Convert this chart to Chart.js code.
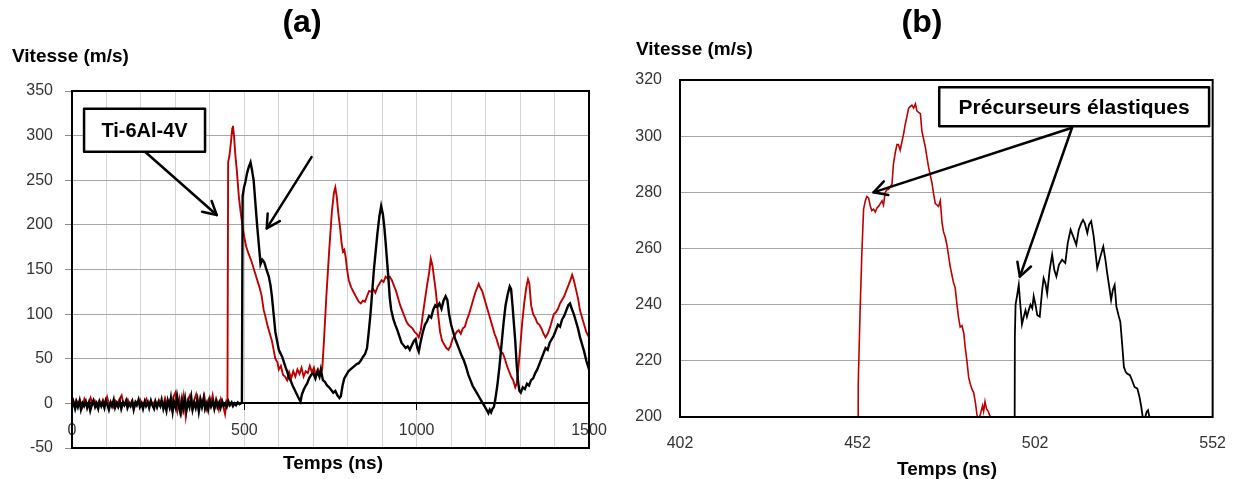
<!DOCTYPE html>
<html lang="fr">
<head>
<meta charset="utf-8">
<title>Vitesse de surface libre - Ti-6Al-4V</title>
<script src="https://cdn.jsdelivr.net/npm/chart.js@4.4.1/dist/chart.umd.min.js"></script>
<style>
  html, body { margin: 0; padding: 0; background: #fff; }
  #page { position: relative; width: 1235px; height: 479px; overflow: hidden; }
  #grapheA { position: absolute; left: 0; top: 0; }
  #grapheB { position: absolute; left: 620px; top: 0; }
</style>
</head>
<body>
<div id="page">
  <canvas id="grapheA" width="620" height="479"></canvas>
  <canvas id="grapheB" width="615" height="479"></canvas>
</div>
<script>
// ---- Graphe (a) : signal complet, temps en ns / vitesse en m/s ----
const etiquettesTempsA = [0, 500, 1000, 1500];
const etiquettesVitesseA = [-50, 0, 50, 100, 150, 200, 250, 300, 350];

// tir 1 (rouge) : [temps, vitesse]
const rougeA = [
  [0,2],[6,-3],[12,4],[18,-1],[24,3],[30,-4],[36,5],[42,0],[48,-2],[54,6],[60,-1],[66,3],[72,-3],[78,2],[84,-2],[90,4],
  [96,-1],[102,7],[108,-2],[114,1],[120,-4],[126,3],[132,0],[138,5],[144,9],[150,-2],[156,-1],[162,4],[168,-2],[174,3],
  [180,-5],[186,2],[192,0],[198,4],[204,-3],[210,1],[216,5],[222,-2],[228,3],[234,-1],[240,2],[246,-4],[252,4],[258,0],
  [264,-3],[270,6],[276,-2],[282,3],[288,-6],[294,7],[300,12],[306,-8],[312,5],[318,-10],[324,8],[330,-15],[336,4],
  [342,9],[348,-5],[354,3],[360,10],[366,-4],[372,7],[378,-2],[384,8],[390,-6],[396,4],[402,-3],[408,9],[414,-5],[420,3],
  [426,-7],[432,5],[438,-2],[444,-12],[448,2],[451,0],
  [453,270],[457,278],[461,292],[465,308],[467,311],[470,300],[474,278],[478,262],[484,232],[490,212],[498,190],[505,176],
  [512,168],[520,160],[528,150],[536,140],[544,130],[550,121],[556,105],[562,96],[568,86],[574,78],[580,70],[585,60],
  [590,50],[596,46],[600,38],[606,42],[612,32],[618,30],[624,26],[630,35],[636,28],[642,36],[648,30],[654,38],[660,33],
  [666,40],[672,30],[678,36],[684,34],[690,42],[696,35],[702,40],[708,30],[714,38],[720,32],[726,38],
  [731,70],[738,120],[746,170],[754,215],[760,236],[764,242],[768,232],[773,212],[778,196],[782,180],[786,170],[790,172],
  [794,164],[798,150],[803,138],[810,130],[818,124],[826,118],[832,114],[838,112],[844,115],[850,114],[856,120],[862,126],
  [868,125],[874,128],[880,124],[886,130],[892,134],[898,138],[904,136],[910,142],[916,140],[922,142],[928,138],[934,132],
  [940,126],[946,118],[952,110],[958,104],[964,98],[970,92],[976,88],[982,86],[988,84],[994,80],[1000,78],[1006,74],
  [1012,82],[1018,100],[1024,116],[1030,132],[1036,146],[1041,162],[1046,154],[1050,142],[1056,124],[1062,100],[1068,80],
  [1074,70],[1080,66],[1086,62],[1092,60],[1098,64],[1104,72],[1110,76],[1116,80],[1122,82],[1128,78],[1134,84],[1140,86],
  [1146,94],[1152,100],[1158,108],[1164,116],[1170,124],[1176,130],[1180,134],[1184,130],[1190,126],[1196,118],[1202,110],
  [1208,102],[1214,94],[1220,86],[1226,78],[1232,72],[1238,64],[1244,58],[1250,56],[1256,50],[1262,42],[1268,36],[1274,30],
  [1280,26],[1286,18],[1290,22],[1294,35],[1300,60],[1306,90],[1312,112],[1318,130],[1323,139],[1327,134],[1332,110],
  [1338,100],[1344,96],[1350,90],[1356,88],[1362,84],[1368,78],[1374,74],[1380,78],[1386,84],[1392,92],[1398,100],
  [1404,102],[1410,106],[1416,112],[1422,116],[1428,120],[1434,126],[1440,132],[1446,138],[1451,144],[1456,138],
  [1462,128],[1468,118],[1474,104],[1480,96],[1486,88],[1492,80],[1500,74]
];

// tir 2 (noir) : [temps, vitesse]
const noirA = [
  [0,-3],[4,2],[9,-6],[13,1],[17,-4],[22,3],[26,-7],[31,0],[35,-3],[40,2],[44,-5],[49,1],[53,-8],[58,-1],[62,3],[67,-4],
  [71,0],[76,-6],[80,2],[85,-3],[89,1],[94,-5],[98,3],[103,-2],[107,-7],[112,1],[116,-3],[121,4],[125,-5],[130,0],[134,-4],
  [139,2],[143,-6],[148,1],[152,-2],[157,3],[161,-5],[166,0],[170,-3],[175,2],[179,-7],[184,1],[188,-2],[193,4],[197,-4],
  [202,0],[206,-6],[211,2],[215,-3],[220,1],[224,-5],[229,3],[233,-2],[238,-6],[242,2],[247,-4],[251,1],[256,-3],[260,4],
  [265,-6],[269,0],[274,-8],[278,3],[283,-4],[287,6],[292,-9],[296,2],[301,-5],[305,8],[310,-3],[314,-10],[319,4],[323,-6],
  [328,5],[332,-8],[337,2],[341,-4],[346,7],[350,-7],[355,1],[359,-5],[364,4],[368,-9],[373,3],[377,-4],[382,6],[386,-6],
  [391,0],[395,-7],[400,4],[404,-3],[409,2],[413,-6],[418,3],[422,-4],[427,1],[431,-5],[436,2],[440,-3],[445,0],[449,-4],
  [454,2],[458,-2],[463,1],[467,-3],[472,0],[476,-2],[481,1],[486,-1],[490,0],[493,1],
  [495,232],[499,242],[503,248],[508,258],[513,265],[518,270],[522,262],[527,250],[532,225],[537,200],[542,178],[547,156],
  [552,161],[558,158],[564,150],[571,142],[576,132],[580,120],[585,100],[590,80],[595,70],[600,60],[605,56],[610,52],
  [615,46],[620,40],[625,35],[630,28],[635,25],[640,20],[645,16],[650,12],[655,8],[660,4],[663,2],[667,10],[672,15],
  [677,19],[682,22],[688,28],[694,32],[700,34],[706,28],[712,36],[718,30],[722,38],[728,26],[734,24],[740,20],[746,18],
  [752,15],[758,12],[764,14],[770,9],[776,6],[780,8],[785,20],[790,28],[796,32],[802,36],[808,38],[814,40],[820,42],
  [826,44],[832,45],[838,48],[844,52],[850,55],[856,62],[861,80],[866,100],[871,125],[876,150],[881,170],[886,190],
  [892,210],[897,221],[902,212],[906,198],[910,180],[914,160],[918,140],[922,118],[926,105],[932,95],[938,88],[944,82],
  [950,75],[956,68],[962,65],[968,62],[974,64],[980,60],[986,65],[992,70],[997,72],[1002,62],[1006,58],[1012,70],
  [1018,80],[1024,88],[1030,92],[1036,98],[1042,96],[1048,105],[1054,110],[1060,108],[1066,112],[1072,106],[1078,115],
  [1084,120],[1089,116],[1094,100],[1100,88],[1106,80],[1112,72],[1118,66],[1124,60],[1130,54],[1137,48],[1144,40],
  [1150,32],[1156,26],[1162,20],[1168,16],[1174,12],[1180,8],[1186,4],[1192,0],[1198,-4],[1204,-8],[1208,-11],[1212,-7],
  [1216,-10],[1220,-6],[1224,-4],[1228,4],[1234,20],[1240,40],[1246,65],[1252,90],[1258,110],[1264,122],[1270,131],
  [1274,128],[1278,110],[1282,90],[1286,70],[1290,45],[1294,25],[1298,14],[1302,12],[1308,18],[1314,16],[1320,22],
  [1326,20],[1332,26],[1338,28],[1344,34],[1350,38],[1356,44],[1362,50],[1368,56],[1374,62],[1380,60],[1386,68],[1392,72],
  [1398,76],[1404,82],[1410,88],[1416,86],[1422,94],[1428,98],[1434,104],[1440,110],[1445,112],[1450,106],[1456,100],
  [1462,92],[1468,84],[1474,74],[1480,66],[1486,58],[1492,48],[1500,38]
];

// ---- Graphe (b) : zoom sur les précurseurs élastiques ----
const etiquettesTempsB = [402, 452, 502, 552];
const etiquettesVitesseB = [200, 220, 240, 260, 280, 300, 320];

const rougeB = [
  [402,0],[451.8,0],[452.2,212],[452.7,237],[453.2,258],[453.7,274],[454.2,277],[454.6,278.5],[455.1,278],[455.6,275],
  [456.0,273.5],[456.5,274],[457.0,273],[457.5,274.5],[457.9,275],[458.4,276],[458.9,277],[459.3,275.5],[459.8,280],
  [460.3,281],[460.7,281],[461.2,282],[461.7,283],[462.1,290],[462.6,294],[463.1,297],[463.5,297],[464.0,295],[464.5,298],
  [465.0,301],[465.4,304],[465.9,307],[466.4,310],[466.8,310.5],[467.3,311],[467.8,310],[468.3,311.5],[468.7,309],
  [469.2,308.5],[469.7,308],[470.1,302],[470.6,299],[471.1,296],[471.6,292],[472.0,289],[472.5,286],[473.0,283],
  [473.4,279.5],[473.9,276],[474.4,275.4],[474.8,275],[475.3,277],[475.8,269],[476.2,266],[476.7,264],[477.2,261],
  [478.1,253.5],[479.0,248],[479.5,246],[480.0,240],[480.4,235.7],[480.9,232],[481.4,232.5],[481.9,230],[482.3,225],
  [482.8,220],[483.3,214],[483.8,211.6],[484.2,210],[484.7,208.7],[485.2,205],[485.6,201],[486.0,199],[486.6,201],
  [487.2,204],[487.5,202],[487.9,205.5],[488.3,203],[488.8,202],[489.7,199],[491,190],[500,150],[552,60]
];

const noirB = [
  [402,0],[495.9,0],[496.3,228.6],[496.5,240],[496.9,243],[497.4,247],[497.9,239],[498.3,233],[498.8,235.7],[499.3,238],
  [499.7,235.7],[500.2,238],[500.7,240],[501.2,238.7],[501.6,243],[502.1,240],[502.6,236.3],[503.3,235.7],[504.0,245.3],
  [504.4,249.4],[504.9,247.6],[505.4,244],[506.1,252.4],[506.8,257.8],[507.4,252.4],[508.0,250],[508.7,254.2],[509.6,256],
  [510.5,254.8],[511.2,262],[512.0,266.7],[512.9,263.7],[513.6,261.3],[514.3,266.7],[515.0,269],[515.5,270.2],[516.0,269],
  [516.7,265.5],[517.2,268.5],[517.8,269.7],[518.5,264.3],[519.5,253],[520.4,257.2],[521.2,260.7],[521.8,256],
  [522.3,251.2],[523.0,245.3],[523.4,241.7],[523.9,245.3],[524.4,247],[524.9,239.2],[525.6,235.7],[526.0,233.9],
  [526.5,226.2],[527.0,217.9],[527.5,216.1],[527.9,215.5],[528.7,214.9],[529.3,213.1],[530.0,210.7],[530.8,210.1],
  [531.4,207.1],[531.9,203.6],[532.3,200],[532.8,199],[533.4,201.8],[533.8,202.4],[534.2,200],[535,196],[540,180],[552,150]
];

const POLICE = '"Liberation Sans", Arial, sans-serif';
Chart.defaults.font.family = POLICE;

const enPoints = (serie) => serie.map(([t, v]) => ({ x: t, y: v }));

// Habillage façon tableur : cadre, titres, boîte de légende et flèches
function habillage(reglages) {
  return {
    id: 'habillage',
    afterDraw(chart) {
      const { ctx, chartArea: zone, scales } = chart;
      const px = (t) => scales.x.getPixelForValue(t);
      const py = (v) => scales.y.getPixelForValue(v);
      ctx.save();

      ctx.strokeStyle = '#000';
      ctx.lineWidth = 2;
      ctx.strokeRect(zone.left, zone.top, zone.right - zone.left, zone.bottom - zone.top);

      // flèches
      ctx.lineWidth = 2.5;
      ctx.lineCap = 'round';
      ctx.lineJoin = 'round';
      reglages.fleches.forEach(([t0, v0, t1, v1]) => {
        const x0 = px(t0), y0 = py(v0), x1 = px(t1), y1 = py(v1);
        const angle = Math.atan2(y1 - y0, x1 - x0);
        ctx.beginPath();
        ctx.moveTo(x0, y0);
        ctx.lineTo(x1, y1);
        ctx.stroke();
        ctx.beginPath();
        ctx.moveTo(x1 - 15 * Math.cos(angle - 0.5), y1 - 15 * Math.sin(angle - 0.5));
        ctx.lineTo(x1, y1);
        ctx.lineTo(x1 - 15 * Math.cos(angle + 0.5), y1 - 15 * Math.sin(angle + 0.5));
        ctx.stroke();
      });

      // boîte de texte
      const b = reglages.boite;
      const bx = px(b.t0), by = py(b.v1), bw = px(b.t1) - bx, bh = py(b.v0) - by;
      ctx.fillStyle = '#fff';
      ctx.fillRect(bx, by, bw, bh);
      ctx.lineWidth = 2.5;
      ctx.lineCap = 'butt';
      ctx.strokeRect(bx, by, bw, bh);
      ctx.fillStyle = '#000';
      ctx.font = 'bold ' + b.taille + 'px ' + POLICE;
      ctx.textAlign = 'center';
      ctx.textBaseline = 'middle';
      ctx.fillText(b.texte, bx + bw / 2, by + bh / 2 + 1);

      // titres
      reglages.textes.forEach((txt) => {
        ctx.font = txt.police;
        ctx.textAlign = txt.align;
        ctx.textBaseline = 'middle';
        ctx.fillStyle = '#000';
        ctx.fillText(txt.texte, txt.x, txt.y);
      });
      ctx.restore();
    }
  };
}

// ---- (a) ----
new Chart(document.getElementById('grapheA'), {
  type: 'line',
  data: {
    datasets: [
      { label: 'Tir 2', data: enPoints(noirA), borderColor: '#000', borderWidth: 2.4, pointRadius: 0, tension: 0 },
      { label: 'Tir 1', data: enPoints(rougeA), borderColor: '#c00000', borderWidth: 1.9, pointRadius: 0, tension: 0 }
    ]
  },
  options: {
    responsive: false,
    animation: false,
    events: [],
    layout: { padding: { left: 0, top: 91, right: 31, bottom: 31 } },
    plugins: { legend: { display: false }, tooltip: { enabled: false } },
    scales: {
      x: {
        type: 'linear',
        position: { y: 0 },
        min: 0,
        max: 1500,
        afterFit: (axe) => { axe.height = 0; },
        ticks: {
          stepSize: 100,
          autoSkip: false,
          maxRotation: 0,
          padding: 12,
          color: '#333',
          font: { size: 16 },
          callback: (valeur) => etiquettesTempsA.includes(valeur) ? String(valeur) : ''
        },
        grid: {
          color: '#d4d4d4',
          lineWidth: 1,
          tickLength: 6,
          tickColor: (c) => etiquettesTempsA.includes(c.tick.value) ? '#000' : 'rgba(0,0,0,0)'
        },
        border: { color: '#000', width: 2 }
      },
      y: {
        min: -50,
        max: 350,
        afterFit: (axe) => { axe.width = 72; },
        afterBuildTicks: (axe) => { axe.ticks = etiquettesVitesseA.map((v) => ({ value: v })); },
        ticks: { padding: 12, color: '#333', font: { size: 16 } },
        grid: {
          color: (c) => c.tick.value === 0 ? 'rgba(0,0,0,0)' : '#a6a6a6',
          tickLength: 7,
          tickColor: '#8c8c8c'
        },
        border: { color: '#000', width: 2 }
      }
    }
  },
  plugins: [habillage({
    boite: { t0: 35, t1: 386, v0: 282, v1: 330, texte: 'Ti-6Al-4V', taille: 20 },
    fleches: [[212, 282, 420, 211], [695, 276, 565, 196]],
    textes: [
      { texte: '(a)', x: 302, y: 23, align: 'center', police: 'bold 32px ' + POLICE },
      { texte: 'Vitesse (m/s)', x: 12, y: 57, align: 'left', police: 'bold 19px ' + POLICE },
      { texte: 'Temps (ns)', x: 333, y: 464, align: 'center', police: 'bold 19px ' + POLICE }
    ]
  })]
});

// ---- (b) ----
new Chart(document.getElementById('grapheB'), {
  type: 'line',
  data: {
    datasets: [
      { label: 'Tir 2', data: enPoints(noirB), borderColor: '#000', borderWidth: 1.8, pointRadius: 0, tension: 0 },
      { label: 'Tir 1', data: enPoints(rougeB), borderColor: '#c00000', borderWidth: 1.6, pointRadius: 0, tension: 0 }
    ]
  },
  options: {
    responsive: false,
    animation: false,
    events: [],
    layout: { padding: { left: 0, top: 80, right: 17, bottom: 22 } },
    plugins: { legend: { display: false }, tooltip: { enabled: false } },
    scales: {
      x: {
        type: 'linear',
        min: 402,
        max: 552,
        afterFit: (axe) => { axe.height = 40; },
        afterBuildTicks: (axe) => { axe.ticks = etiquettesTempsB.map((v) => ({ value: v })); },
        ticks: { padding: 9, maxRotation: 0, autoSkip: false, color: '#333', font: { size: 16 } },
        grid: { display: false },
        border: { color: '#000', width: 2 }
      },
      y: {
        min: 200,
        max: 320,
        afterFit: (axe) => { axe.width = 60; },
        afterBuildTicks: (axe) => { axe.ticks = etiquettesVitesseB.map((v) => ({ value: v })); },
        ticks: { padding: 18, color: '#333', font: { size: 16 } },
        grid: { color: '#a6a6a6', drawTicks: false },
        border: { color: '#000', width: 2 }
      }
    }
  },
  plugins: [habillage({
    boite: { t0: 475, t1: 551, v0: 303.5, v1: 317.4, texte: 'Précurseurs élastiques', taille: 21 },
    fleches: [[512.4, 303, 456.5, 280], [512.4, 303, 497.7, 250]],
    textes: [
      { texte: '(b)', x: 302, y: 23, align: 'center', police: 'bold 32px ' + POLICE },
      { texte: 'Vitesse (m/s)', x: 16, y: 50, align: 'left', police: 'bold 19px ' + POLICE },
      { texte: 'Temps (ns)', x: 327, y: 470, align: 'center', police: 'bold 19px ' + POLICE }
    ]
  })]
});
</script>
</body>
</html>
